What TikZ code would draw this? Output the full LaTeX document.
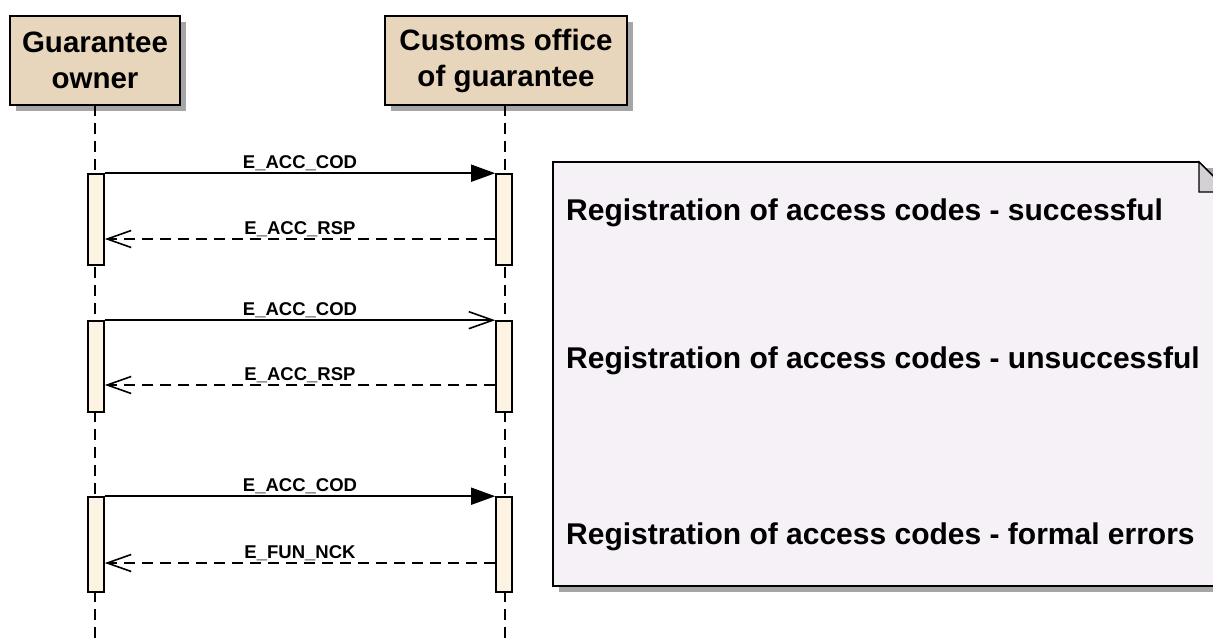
\documentclass[tikz,border=0pt]{standalone}
\usepackage{fontspec}
\setmainfont{Liberation Sans}
\usetikzlibrary{arrows.meta,shadows}

\definecolor{headfill}{HTML}{E8D6BC}
\definecolor{actfill}{HTML}{FDF3E3}
\definecolor{notefill}{HTML}{F5F1F6}
\definecolor{shadegray}{HTML}{A6A6A6}
\definecolor{foldgray}{HTML}{D4D0D6}

\tikzset{
  head/.style={draw, line width=1.6pt, fill=headfill, align=center, inner sep=0,
    font=\bfseries\fontsize{29.5}{36}\selectfont,
    drop shadow={shadow xshift=6pt, shadow yshift=-6pt, fill=shadegray, opacity=1}},
  act/.style={draw, line width=1.6pt, fill=actfill, minimum width=16, inner sep=0},
  life/.style={line width=1.6pt, dash pattern=on 11pt off 7pt},
  call/.style={line width=1.6pt, -{Triangle[length=24pt,width=17pt]}},
  async/.style={line width=1.6pt, -{Straight Barb[length=24pt,width=17pt]}},
  reply/.style={line width=1.6pt, dash pattern=on 11pt off 7pt, -{Straight Barb[length=24pt,width=17pt]}},
  msg/.style={font=\bfseries\fontsize{18.5}{20}\selectfont, inner sep=1.5pt, above},
  notetext/.style={anchor=west, inner sep=0, font=\bfseries\fontsize{30}{34}\selectfont}
}

\begin{document}
\begin{tikzpicture}[x=1pt,y=-1pt]
	%%%%% START %%%%%
	\useasboundingbox (0,0) rectangle (1213,639);
	\clip (0,0) rectangle (1213,639);
	
	% lifeline heads
	\node[head, minimum width=170, minimum height=89] (owner) at (95,60.5) {Guarantee\\owner};
	\node[head, minimum width=242, minimum height=89] (office) at (506,60.5) {Customs office\\of guarantee};
	
	\coordinate (ownerEnd) at (95,645);
	\coordinate (officeEnd) at (505,645);
	\draw[life] (95,105) -- (ownerEnd);
	\draw[life] (505,105) -- (officeEnd);
	
	% activations
	\node[act, minimum height=91] (a1) at (96,219.5) {};
	\node[act, minimum height=91] (b1) at (504,219.5) {};
	\node[act, minimum height=91] (a2) at (96,366.5) {};
	\node[act, minimum height=91] (b2) at (504,366.5) {};
	\node[act, minimum height=95] (a3) at (96,544.5) {};
	\node[act, minimum height=95] (b3) at (504,544.5) {};
	
	\coordinate (r1) at (0,239);
	\coordinate (r2) at (0,385);
	\coordinate (r3) at (0,563);
	
	% messages
	\draw[call] (a1.north east) -- node[msg] {E\_ACC\_COD} (b1.north west);
	\draw[reply] (b1.west |- r1) -- node[msg] {E\_ACC\_RSP} (a1.east |- r1);
	\draw[async] (a2.north east) -- node[msg] {E\_ACC\_COD} (b2.north west);
	\draw[reply] (b2.west |- r2) -- node[msg] {E\_ACC\_RSP} (a2.east |- r2);
	\draw[call] (a3.north east) -- node[msg] {E\_ACC\_COD} (b3.north west);
	\draw[reply] (b3.west |- r3) -- node[msg] {E\_FUN\_NCK} (a3.east |- r3);
	
	% note
	\fill[shadegray] (559,168) -- (1235,168) -- (1235,592) -- (559,592) -- cycle;
	\draw[line width=1.6pt, fill=notefill] (553,162) -- (1199,162) -- (1229,192) -- (1229,586) -- (553,586) -- cycle;
	\draw[line width=1.2pt, fill=foldgray] (1199,162) -- (1199,192) -- (1229,192) -- cycle;
	\node[notetext] (n1) at (566,213) {Registration of access codes - successful};
	\node[notetext] (n2) at (566,361) {Registration of access codes - unsuccessful};
	\node[notetext] (n3) at (566,537) {Registration of access codes - formal errors};
	%%%%% END %%%%%
\end{tikzpicture}
\end{document}
